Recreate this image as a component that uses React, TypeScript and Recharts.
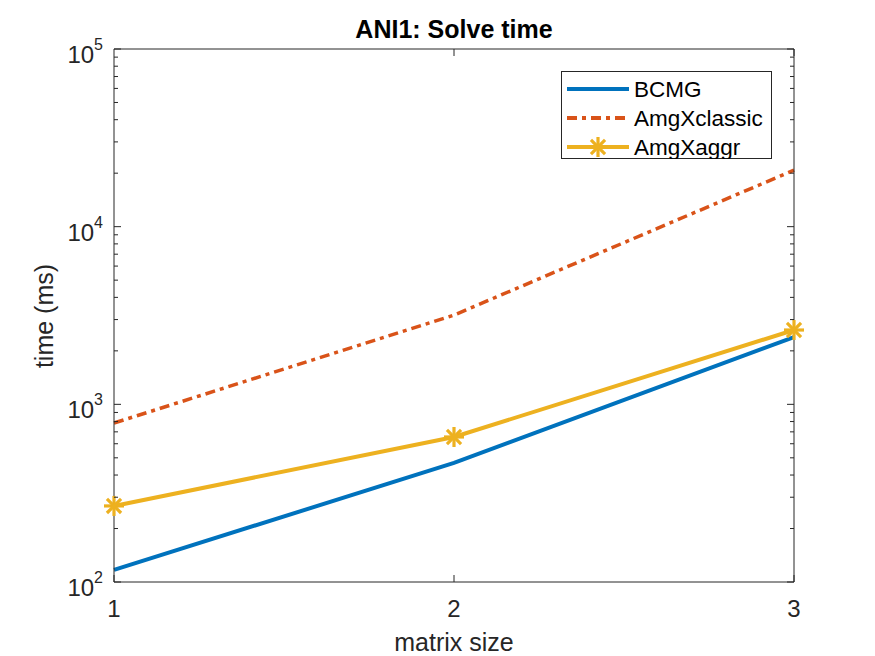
import React from 'react';
import { LineChart, Line, XAxis, YAxis, Legend } from 'recharts';

// matrix size index and solve times (ms)
const sizes = [1, 2, 3];
const bcmg = [117, 468, 2390];
const amgxClassic = [785, 3180, 20800];
const amgxAggr = [268, 655, 2620];

const xTicks = [1, 2, 3];
const majorTicks = [100, 1000, 10000, 100000];
const yTicks: number[] = [];
majorTicks.slice(0, -1).forEach((d) => {
  for (let k = 1; k < 10; k++) yTicks.push(d * k);
});
yTicks.push(100000);

const data = sizes.map((s, i) => ({
  size: s,
  bcmg: bcmg[i],
  classic: amgxClassic[i],
  aggr: amgxAggr[i],
}));

const W = 875;
const H = 656;
const PL = 114;
const PR = 794;
const PT = 49;
const PB = 582;

const FONT = '"Liberation Sans", Arial, Helvetica, sans-serif';
const AXIS = '#262626';
const BLUE = '#0072BD';
const ORANGE = '#D95319';
const YELLOW = '#EDB120';

const Asterisk = ({ cx, cy, r = 10, color }: { cx: number; cy: number; r?: number; color: string }) => {
  const d = r * 0.707;
  return (
    <g stroke={color} strokeWidth={3.2}>
      <line x1={cx - r} y1={cy} x2={cx + r} y2={cy} />
      <line x1={cx} y1={cy - r} x2={cx} y2={cy + r} />
      <line x1={cx - d} y1={cy - d} x2={cx + d} y2={cy + d} />
      <line x1={cx - d} y1={cy + d} x2={cx + d} y2={cy - d} />
    </g>
  );
};

const isMajor = (v: number) => majorTicks.includes(v);

const LeftTick = (props: any) => {
  const { y, payload } = props;
  const v = payload.value;
  const major = isMajor(v);
  return (
    <g>
      <line x1={PL} x2={PL + (major ? 7 : 4)} y1={y} y2={y} stroke={AXIS} />
      {major && (
        <text x={PL - 11} y={y + 14} textAnchor="end" fontSize={24} fill={AXIS} fontFamily={FONT}>
          10
          <tspan dy={-13} fontSize={16}>{Math.round(Math.log10(v))}</tspan>
        </text>
      )}
    </g>
  );
};

const RightTick = (props: any) => {
  const { y, payload } = props;
  const major = isMajor(payload.value);
  return <line x1={PR - (major ? 7 : 4)} x2={PR} y1={y} y2={y} stroke={AXIS} />;
};

const BottomTick = (props: any) => {
  const { x, payload } = props;
  return (
    <g>
      <line x1={x} x2={x} y1={PB} y2={PB - 7} stroke={AXIS} />
      <text x={x} y={PB + 35} textAnchor="middle" fontSize={24} fill={AXIS} fontFamily={FONT}>
        {payload.value}
      </text>
    </g>
  );
};

const TopTick = (props: any) => {
  const { x } = props;
  return <line x1={x} x2={x} y1={PT} y2={PT + 7} stroke={AXIS} />;
};

const legendItems = [
  { name: 'BCMG', color: BLUE, dash: undefined, marker: false },
  { name: 'AmgXclassic', color: ORANGE, dash: '10 5 4 5', marker: false },
  { name: 'AmgXaggr', color: YELLOW, dash: undefined, marker: true },
];

const LegendBox = () => (
  <svg width={211} height={88} style={{ display: 'block' }}>
    <rect x={0.5} y={0.5} width={210} height={87} fill="#fff" stroke={AXIS} />
    {legendItems.map((it, i) => {
      const cy = 18 + i * 29;
      return (
        <g key={it.name}>
          <line x1={6} x2={68} y1={cy} y2={cy} stroke={it.color} strokeWidth={4} strokeDasharray={it.dash} />
          {it.marker && <Asterisk cx={37} cy={cy} color={it.color} />}
          <text x={73} y={cy + 8} fontSize={22.5} fill="#000" fontFamily={FONT}>
            {it.name}
          </text>
        </g>
      );
    })}
  </svg>
);

export default function App() {
  return (
    <div style={{ position: 'absolute', left: 0, top: 0, width: W, height: H, background: '#fff' }}>
      <LineChart
        width={W}
        height={H}
        data={data}
        margin={{ top: PT - 1, right: W - PR - 1, bottom: H - PB - 1, left: PL - 1 }}
      >
        <text x={(PL + PR) / 2} y={38} textAnchor="middle" fontSize={25} fontWeight="bold" fill="#000" fontFamily={FONT}>
          ANI1: Solve time
        </text>
        <text x={(PL + PR) / 2} y={651} textAnchor="middle" fontSize={25} fill={AXIS} fontFamily={FONT}>
          matrix size
        </text>
        <text
          x={53}
          y={316}
          textAnchor="middle"
          fontSize={25}
          fill={AXIS}
          fontFamily={FONT}
          transform="rotate(-90 53 316)"
        >
          time (ms)
        </text>
        <XAxis
          dataKey="size"
          type="number"
          domain={[1, 3]}
          ticks={xTicks}
          interval={0}
          height={1}
          tickLine={false}
          tick={BottomTick}
          axisLine={{ stroke: AXIS }}
        />
        <XAxis
          xAxisId="top"
          orientation="top"
          type="number"
          domain={[1, 3]}
          ticks={xTicks}
          interval={0}
          height={1}
          tickLine={false}
          tick={TopTick}
          axisLine={{ stroke: AXIS }}
        />
        <YAxis
          scale="log"
          type="number"
          domain={[100, 100000]}
          allowDataOverflow
          ticks={yTicks}
          interval={0}
          width={1}
          tickLine={false}
          tick={LeftTick}
          axisLine={{ stroke: AXIS }}
        />
        <YAxis
          yAxisId="right"
          orientation="right"
          scale="log"
          type="number"
          domain={[100, 100000]}
          allowDataOverflow
          ticks={yTicks}
          interval={0}
          width={1}
          tickLine={false}
          tick={RightTick}
          axisLine={{ stroke: AXIS }}
        />
        <Legend
          layout="horizontal"
          align="center"
          verticalAlign="middle"
          content={LegendBox}
          wrapperStyle={{ position: 'absolute', left: 561, top: 71, width: 211, height: 88 }}
        />
        <Line
          dataKey="bcmg"
          name="BCMG"
          type="linear"
          stroke={BLUE}
          strokeWidth={4}
          dot={false}
          activeDot={false}
          isAnimationActive={false}
        />
        <Line
          dataKey="classic"
          name="AmgXclassic"
          type="linear"
          stroke={ORANGE}
          strokeWidth={3.5}
          strokeDasharray="10 5 4 5"
          dot={false}
          activeDot={false}
          isAnimationActive={false}
        />
        <Line
          dataKey="aggr"
          name="AmgXaggr"
          type="linear"
          stroke={YELLOW}
          strokeWidth={4}
          dot={(p: any) => <Asterisk key={p.index} cx={p.cx} cy={p.cy} color={YELLOW} />}
          activeDot={false}
          isAnimationActive={false}
        />
      </LineChart>
    </div>
  );
}
